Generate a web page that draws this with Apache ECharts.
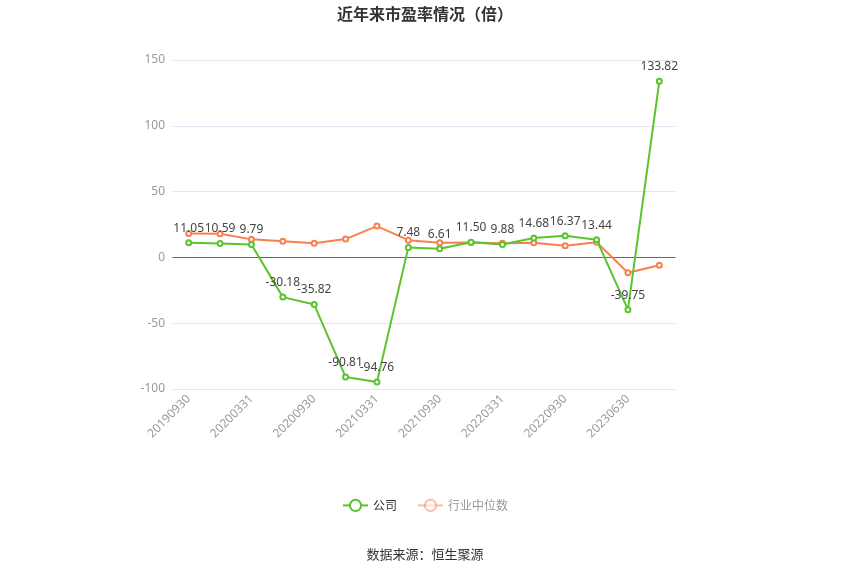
<!DOCTYPE html>
<html><head><meta charset="utf-8">
<script src="https://cdn.jsdelivr.net/npm/echarts@6/dist/echarts.min.js"></script>
<style>html,body{margin:0;padding:0;background:#fff}#c{width:850px;height:574px}</style>
</head><body><div id="c"></div>
<script>
const categories = ['20190930','20191231','20200331','20200630','20200930','20201231','20210331','20210630','20210930','20211231','20220331','20220630','20220930','20221231','20230630','20230930'];
const companyPE = [11.05,10.59,9.79,-30.18,-35.82,-90.81,-94.76,7.48,6.61,11.50,9.88,14.68,16.37,13.44,-39.75,133.82];
const industryPE = [18.2,18.0,13.7,12.2,10.8,13.9,23.8,13.1,11.1,11.4,10.8,11.1,8.8,11.6,-11.7,-5.9];
const yTicks = {min:-100, max:150, interval:50};

const chart = echarts.init(document.getElementById('c'));
chart.setOption({
  animation:false,
  backgroundColor:'#fff',
  title:{text:'近年来市盈率情况（倍）',left:'center',top:1,textStyle:{fontSize:16,fontWeight:'bold',color:'#333',fontFamily:'Noto Sans CJK SC'}},
  grid:{left:173,right:175,top:60,bottom:185},
  legend:{bottom:57,left:'center',itemGap:20,textStyle:{fontSize:12,color:'#333',fontFamily:'Noto Sans CJK SC'},
    data:[{name:'公司'},{name:'行业中位数',itemStyle:{opacity:0.5},lineStyle:{opacity:0.5},textStyle:{color:'#999'}}]},
  xAxis:{type:'category',data:categories,boundaryGap:true,
    axisLine:{lineStyle:{color:'#666'}},
    axisTick:{alignWithLabel:true,interval:1,lineStyle:{color:'#666'}},
    axisLabel:{interval:1,rotate:45,color:'#999',fontSize:12,fontFamily:'Noto Sans'}},
  yAxis:{type:'value',min:yTicks.min,max:yTicks.max,interval:yTicks.interval,
    axisLine:{show:false},axisTick:{show:false},
    axisLabel:{color:'#999',fontSize:12,fontFamily:'Noto Sans'},
    splitLine:{lineStyle:{color:'#e0e6f1'}}},
  series:[
    {name:'公司',type:'line',data:companyPE,symbol:'emptyCircle',symbolSize:5,z:3,
     itemStyle:{color:'#5ac42d'},lineStyle:{width:2,color:'#5ac42d'},
     label:{show:true,position:'top',color:'#444',fontSize:12,fontFamily:'Noto Sans',formatter:p=>p.value.toFixed(2)}},
    {name:'行业中位数',type:'line',data:industryPE,symbol:'emptyCircle',symbolSize:5,z:2,
     itemStyle:{color:'#f7804f'},lineStyle:{width:2,color:'#f7804f'}}
  ],
  graphic:[{type:'text',left:'center',top:548,style:{text:'数据来源：恒生聚源',fontSize:13,fill:'#333',fontFamily:'Noto Sans CJK SC'}}]
});
</script></body></html>
